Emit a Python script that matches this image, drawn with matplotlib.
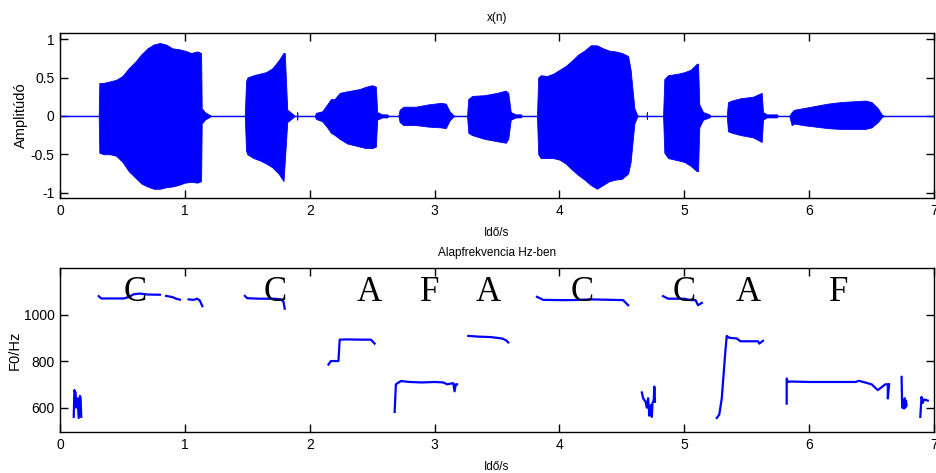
import numpy as np
import matplotlib
matplotlib.use("Agg")
import matplotlib.pyplot as plt

plt.rcParams['font.family'] = ['Liberation Sans Narrow', 'Liberation Sans', 'DejaVu Sans']

# x(n) envelope (time in s, upper and lower amplitude)
env_t = [0.00, 0.31, 0.315, 0.35, 0.40, 0.45, 0.50, 0.55, 0.60, 0.65, 0.70, 0.75, 0.80,
         0.85, 0.90, 0.95, 1.00, 1.05, 1.10, 1.13, 1.135, 1.16, 1.19, 1.21,
         1.48, 1.49, 1.50, 1.55, 1.60, 1.65, 1.70, 1.75, 1.79, 1.80, 1.82, 1.86, 1.88,
         1.898, 1.90, 1.902,
         2.04, 2.05, 2.10, 2.14, 2.17, 2.20, 2.24, 2.30, 2.40, 2.45, 2.50, 2.53, 2.54, 2.58, 2.62, 2.63,
         2.71, 2.72, 2.75, 2.85, 2.95, 3.05, 3.09, 3.12, 3.15, 3.16,
         3.26, 3.27, 3.30, 3.40, 3.50, 3.57, 3.59, 3.61, 3.65, 3.69, 3.70,
         3.82, 3.83, 3.85, 3.90, 3.95, 4.00, 4.05, 4.10, 4.15, 4.20, 4.25, 4.30, 4.35, 4.40,
         4.45, 4.50, 4.55, 4.57, 4.60, 4.62, 4.63,
         4.698, 4.70, 4.702,
         4.83, 4.84, 4.87, 4.95, 5.00, 5.05, 5.10, 5.11, 5.12, 5.15, 5.20, 5.21,
         5.34, 5.35, 5.38, 5.45, 5.55, 5.62, 5.63, 5.66, 5.74, 5.75,
         5.84, 5.86, 5.88, 5.95, 6.05, 6.15, 6.25, 6.35, 6.45, 6.50, 6.55, 6.58, 6.60, 7.00]
env_hi = [0, 0, 0.43, 0.43, 0.45, 0.47, 0.52, 0.62, 0.70, 0.80, 0.88, 0.93, 0.95,
          0.93, 0.88, 0.87, 0.85, 0.82, 0.84, 0.82, 0.10, 0.05, 0.02, 0,
          0, 0.45, 0.50, 0.53, 0.55, 0.57, 0.62, 0.72, 0.82, 0.82, 0.08, 0.03, 0,
          0, 0.05, 0,
          0, 0.04, 0.06, 0.15, 0.22, 0.22, 0.30, 0.32, 0.35, 0.38, 0.40, 0.38, 0.05, 0.02, 0.02, 0,
          0, 0.08, 0.12, 0.12, 0.15, 0.17, 0.16, 0.06, 0.01, 0,
          0, 0.22, 0.26, 0.27, 0.30, 0.33, 0.30, 0.05, 0.02, 0.02, 0,
          0, 0.50, 0.53, 0.52, 0.55, 0.60, 0.65, 0.72, 0.80, 0.85, 0.92, 0.92, 0.88, 0.85,
          0.84, 0.82, 0.78, 0.60, 0.10, 0.02, 0,
          0, 0.05, 0,
          0, 0.48, 0.53, 0.55, 0.57, 0.60, 0.68, 0.68, 0.15, 0.05, 0.02, 0,
          0, 0.18, 0.20, 0.23, 0.25, 0.30, 0.05, 0.02, 0.02, 0,
          0, 0.05, 0.08, 0.10, 0.13, 0.16, 0.18, 0.19, 0.20, 0.18, 0.10, 0.02, 0, 0]
env_lo = [0, 0, -0.48, -0.50, -0.50, -0.52, -0.60, -0.72, -0.80, -0.88, -0.92, -0.95, -0.95,
          -0.93, -0.92, -0.90, -0.87, -0.86, -0.87, -0.85, -0.10, -0.05, -0.02, 0,
          0, -0.45, -0.50, -0.55, -0.58, -0.62, -0.67, -0.75, -0.85, -0.60, -0.08, -0.03, 0,
          0, -0.05, 0,
          0, -0.04, -0.07, -0.15, -0.22, -0.25, -0.30, -0.36, -0.40, -0.42, -0.42, -0.40, -0.05, -0.02, -0.02, 0,
          0, -0.08, -0.12, -0.12, -0.14, -0.15, -0.16, -0.06, -0.01, 0,
          0, -0.22, -0.25, -0.30, -0.33, -0.35, -0.30, -0.05, -0.02, -0.02, 0,
          0, -0.50, -0.55, -0.55, -0.55, -0.57, -0.62, -0.70, -0.77, -0.83, -0.90, -0.95, -0.90, -0.85,
          -0.83, -0.82, -0.75, -0.60, -0.10, -0.02, 0,
          0, -0.04, 0,
          0, -0.48, -0.55, -0.58, -0.60, -0.65, -0.72, -0.72, -0.15, -0.05, -0.02, 0,
          0, -0.20, -0.22, -0.25, -0.28, -0.34, -0.05, -0.02, -0.02, 0,
          0, -0.12, -0.10, -0.12, -0.14, -0.16, -0.17, -0.17, -0.17, -0.15, -0.08, -0.02, 0, 0]

# F0 track (NaN = unvoiced gap)
nan = np.nan
f0_t = [0.11, 0.115, 0.125, 0.13, 0.14, 0.15, 0.16, 0.165, 0.17, nan,
        0.31, 0.33, 0.40, 0.51, 0.55, 0.59, 0.64, 0.70, 0.80, nan,
        0.85, 0.90, 0.93, 0.96, nan,
        1.03, 1.07, 1.10, 1.12, 1.14, nan,
        1.48, 1.50, 1.60, 1.72, 1.77, 1.79, 1.80, nan,
        2.15, 2.17, 2.23, 2.24, 2.30, 2.40, 2.49, 2.52, nan,
        2.68, 2.69, 2.73, 2.80, 2.90, 3.00, 3.07, 3.10, 3.15, 3.16, 3.17, 3.18, nan,
        3.27, 3.35, 3.45, 3.54, 3.57, 3.59, nan,
        3.82, 3.87, 4.00, 4.10, 4.25, 4.40, 4.51, 4.55, nan,
        4.66, 4.67, 4.69, 4.70, 4.71, 4.72, 4.73, 4.74, 4.745, 4.755, 4.76, 4.765, nan,
        4.83, 4.87, 5.00, 5.05, 5.09, 5.11, 5.14, nan,
        5.26, 5.28, 5.30, 5.33, 5.34, 5.36, 5.42, 5.45, 5.59, 5.60, 5.63, nan,
        5.82, 5.82, 5.83, 5.85, 6.00, 6.20, 6.37, 6.40, 6.50, 6.55, 6.61, 6.63, 6.63, 6.64, nan,
        6.74, 6.745, 6.76, 6.765, 6.77, 6.775, 6.78, nan,
        6.89, 6.90, 6.91, 6.92, 6.95]
f0_hz = [560, 675, 665, 600, 640, 555, 650, 640, 560, nan,
         1079, 1069, 1069, 1069, 1075, 1087, 1090, 1086, 1085, nan,
         1080, 1075, 1068, 1064, nan,
         1065, 1063, 1068, 1060, 1036, nan,
         1080, 1070, 1068, 1068, 1065, 1055, 1025, nan,
         785, 800, 800, 892, 893, 892, 892, 875, nan,
         581, 700, 714, 710, 708, 710, 708, 700, 705, 670, 700, 700, nan,
         908, 905, 903, 897, 890, 880, nan,
         1076, 1063, 1062, 1062, 1065, 1063, 1062, 1040, nan,
         665, 640, 625, 600, 640, 565, 610, 560, 620, 630, 690, 625, nan,
         1079, 1068, 1068, 1062, 1062, 1040, 1050, nan,
         555, 570, 640, 850, 908, 900, 897, 885, 885, 875, 887, nan,
         617, 725, 710, 712, 710, 710, 710, 715, 700, 675, 700, 700, 639, 700, nan,
         732, 600, 596, 640, 600, 630, 610, nan,
         560, 646, 620, 635, 630]

notes = ['C', 'C', 'A', 'F', 'A', 'C', 'C', 'A', 'F']
note_t = [0.60, 1.72, 2.48, 2.96, 3.43, 4.18, 5.00, 5.51, 6.24]
note_y = 1058

fig = plt.figure(figsize=(9.36, 4.73), dpi=100)
ax1 = fig.add_axes([0.0641, 0.5814, 0.9338, 0.3488])
ax2 = fig.add_axes([0.0641, 0.0867, 0.9338, 0.3467])

ax1.axhline(0, color='b', lw=1)
ax1.fill_between(env_t, env_lo, env_hi, color='b', lw=0.6, edgecolor='b')
ax1.set_xlim(0, 7)
ax1.set_ylim(-1.07, 1.08)
ax1.set_yticks([-1, -0.5, 0, 0.5, 1])
ax1.set_yticklabels(['-1', '-0.5', '0', '0.5', '1'])
ax1.set_title('x(n)', fontsize=8.5, pad=9)
ax1.set_xlabel('Idő/s', fontsize=8.5, labelpad=7)
ax1.set_ylabel('Amplitúdó', fontsize=10.5, labelpad=2)

ax2.plot(f0_t, f0_hz, color='b', lw=1.6)
for n, t in zip(notes, note_t):
    ax2.text(t, note_y, n, family='Liberation Serif', fontsize=25,
             ha='center', va='baseline')
ax2.set_xlim(0, 7)
ax2.set_ylim(495, 1200)
ax2.set_yticks([600, 800, 1000])
ax2.set_title('Alapfrekvencia Hz-ben', fontsize=8.5, pad=9)
ax2.set_xlabel('Idő/s', fontsize=8.5, labelpad=7)
ax2.set_ylabel('F0/Hz', fontsize=10.5, labelpad=1)

for ax in (ax1, ax2):
    ax.set_xticks(range(8))
    ax.tick_params(direction='in', top=True, right=True, length=6, width=1,
                   labelsize=10, pad=4)
    for s in ax.spines.values():
        s.set_linewidth(1)

fig.savefig('out.png', dpi=100)
